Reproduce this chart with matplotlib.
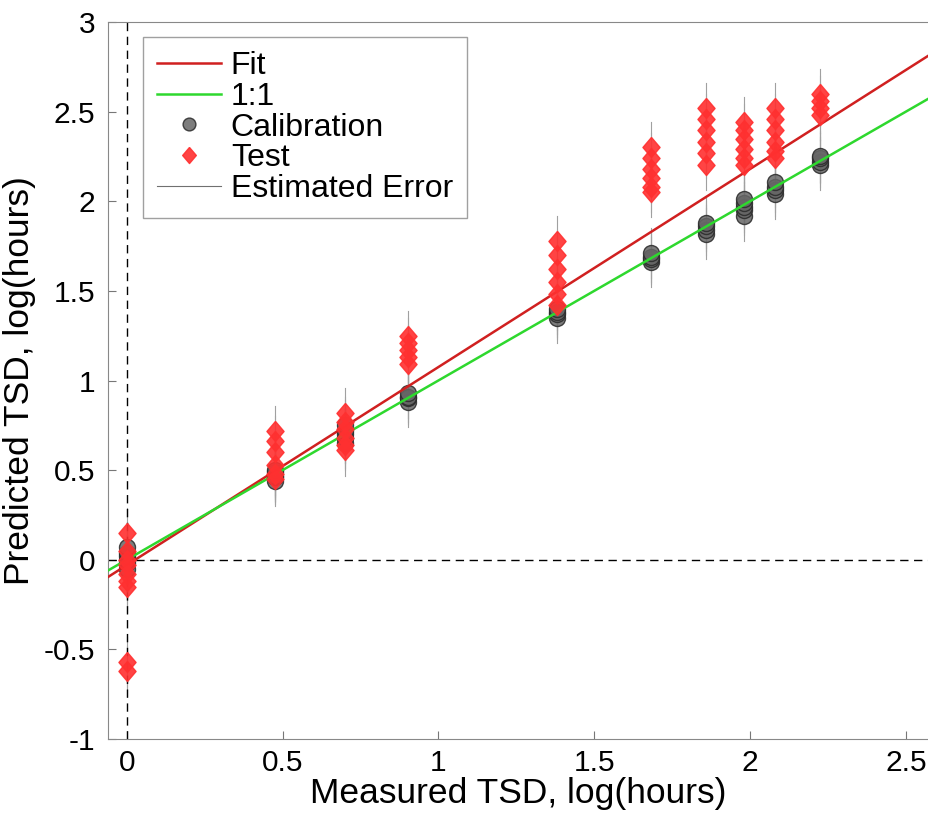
import numpy as np
import matplotlib.pyplot as plt

plt.rcParams['font.family'] = ['Liberation Sans', 'DejaVu Sans']

# measured TSD, log10(hours)
x_groups = [0.0, 0.477, 0.699, 0.903, 1.380, 1.681, 1.857, 1.982, 2.079, 2.225]

cal_y = [
    [-0.05, -0.02, 0.0, 0.02, 0.04, 0.07],
    [0.44, 0.46, 0.47, 0.49, 0.50],
    [0.65, 0.68, 0.70, 0.72, 0.75],
    [0.88, 0.90, 0.91, 0.93],
    [1.35, 1.37, 1.38, 1.40],
    [1.66, 1.68, 1.69, 1.71],
    [1.82, 1.84, 1.86, 1.88],
    [1.92, 1.95, 1.97, 1.99, 2.01],
    [2.04, 2.06, 2.08, 2.11],
    [2.20, 2.22, 2.24, 2.25],
]

test_y = [
    [0.15, 0.05, 0.0, -0.03, -0.08, -0.12, -0.15, -0.57, -0.62],
    [0.72, 0.66, 0.60, 0.53, 0.48, 0.45],
    [0.82, 0.77, 0.73, 0.68, 0.64, 0.61],
    [1.25, 1.21, 1.17, 1.13, 1.09],
    [1.78, 1.70, 1.62, 1.55, 1.48, 1.42],
    [2.30, 2.24, 2.18, 2.13, 2.08, 2.05],
    [2.52, 2.46, 2.40, 2.33, 2.27, 2.20],
    [2.44, 2.40, 2.35, 2.29, 2.24, 2.20],
    [2.52, 2.46, 2.40, 2.33, 2.28, 2.24],
    [2.60, 2.56, 2.52, 2.48],
]

err = 0.14
fit_slope, fit_icpt = 1.105, -0.03

fig = plt.figure(figsize=(9.29, 8.18), dpi=100)
ax = fig.add_axes([108 / 929, 79 / 818, 821 / 929, 717 / 818])

xlim = (-0.06, 2.574)
ax.set_xlim(*xlim)
ax.set_ylim(-1, 3)

# error bars
for xg, cy, ty in zip(x_groups, cal_y, test_y):
    for yv in cy + ty:
        ax.plot([xg, xg], [yv - err, yv + err], color='#a0a0a0', lw=0.8, zorder=1)

ax.axvline(0, color='black', ls=(0, (6, 4)), lw=1, zorder=2)
ax.axhline(0, color='black', ls=(0, (6, 4)), lw=1, zorder=2)

xx = np.array(xlim)
ax.plot(xx, fit_slope * xx + fit_icpt, color='#d02020', lw=1.8, zorder=4, label='Fit')
ax.plot(xx, xx, color='#2ed82e', lw=1.8, zorder=4, label='1:1')

cx = [xg for xg, cy in zip(x_groups, cal_y) for _ in cy]
cyy = [v for cy in cal_y for v in cy]
tx = [xg for xg, ty in zip(x_groups, test_y) for _ in ty]
tyy = [v for ty in test_y for v in ty]

diamond = [(0, 1), (0.85, 0), (0, -1), (-0.85, 0), (0, 1)]

ax.plot(cx, cyy, 'o', ms=11.5, mfc='#666666', mec='#2a2a2a', mew=1.0, alpha=0.85,
        zorder=3, label='Calibration')
ax.plot(tx, tyy, ls='none', marker=diamond, ms=14.5, mfc='#ff3030', mec='#ff3030',
        alpha=0.9, zorder=5, label='Test')
ax.plot([], [], color='#707070', lw=0.8, label='Estimated Error')

ax.set_xticks([0, 0.5, 1, 1.5, 2, 2.5])
ax.set_xticklabels(['0', '0.5', '1', '1.5', '2', '2.5'])
ax.set_yticks([-1, -0.5, 0, 0.5, 1, 1.5, 2, 2.5, 3])
ax.set_yticklabels(['-1', '-0.5', '0', '0.5', '1', '1.5', '2', '2.5', '3'])
ax.tick_params(direction='in', length=6, labelsize=21.5, color='#777777')
ax.tick_params(axis='x', pad=7)
ax.tick_params(axis='y', pad=9)
for s in ax.spines.values():
    s.set_color('#888888')

ax.set_xlabel('Measured TSD, log(hours)', fontsize=25.5, labelpad=0)
ax.set_ylabel('Predicted TSD, log(hours)', fontsize=25.5, labelpad=6)

leg = ax.legend(loc='upper left', bbox_to_anchor=(35 / 821, 1 - 15 / 717),
                borderaxespad=0, fontsize=23, frameon=True, fancybox=False,
                edgecolor='#888888', handlelength=2.0, labelspacing=0.02,
                handletextpad=0.3, borderpad=0.45, markerscale=0.8)
leg.get_frame().set_linewidth(1.0)

fig.savefig('out.png', dpi=100)
